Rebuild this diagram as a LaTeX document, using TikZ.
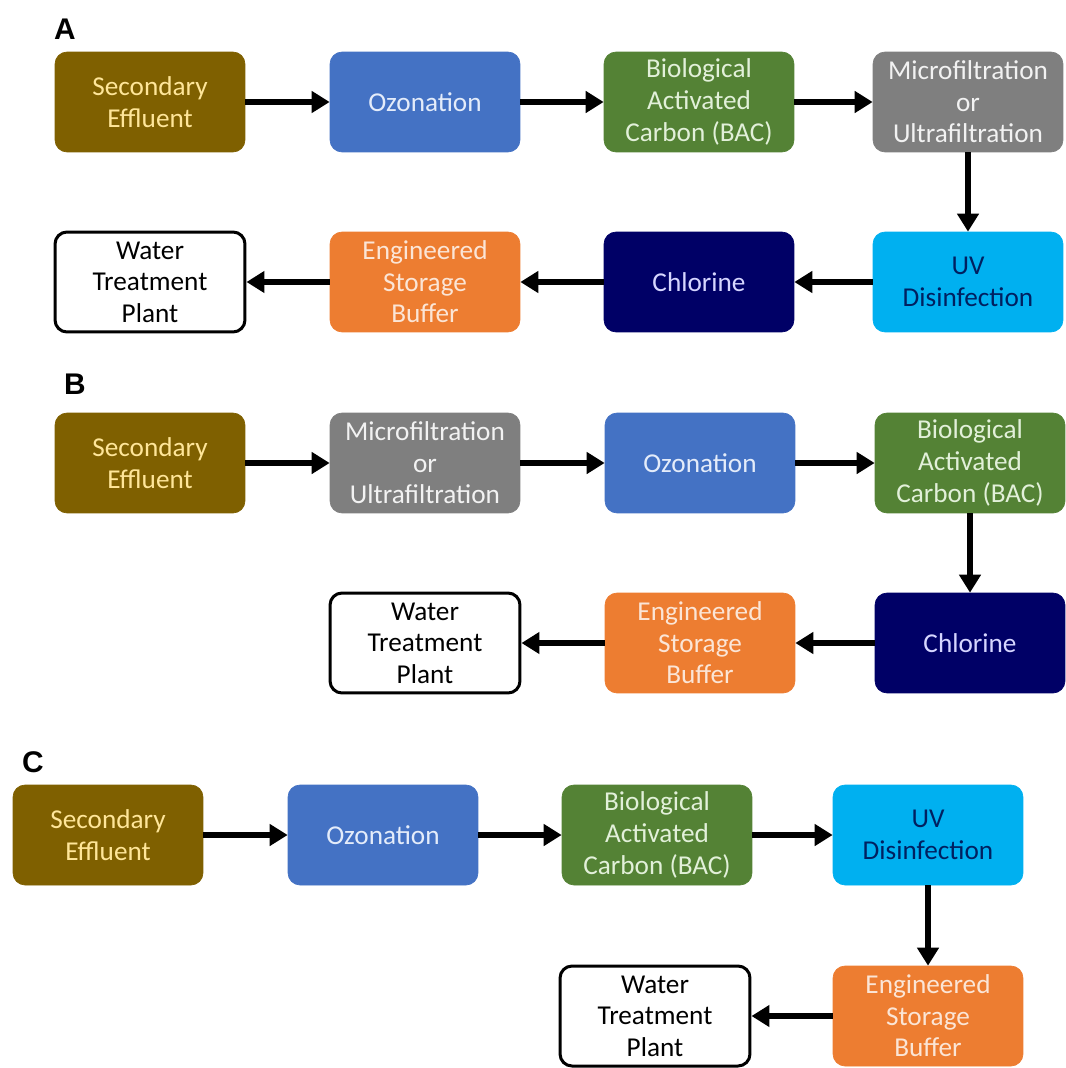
\documentclass[tikz,border=0pt]{standalone}
\usepackage{fontspec}
\setmainfont{Carlito}
\newfontfamily\panelfont{Liberation Sans}
\usetikzlibrary{arrows.meta}
\definecolor{effluent}{HTML}{7F6000}
\definecolor{effluenttext}{HTML}{FFE699}
\definecolor{ozone}{HTML}{4472C4}
\definecolor{ozonetext}{HTML}{E4ECFA}
\definecolor{bac}{HTML}{548235}
\definecolor{bactext}{HTML}{E2F0D9}
\definecolor{filtration}{HTML}{7F7F7F}
\definecolor{filtrationtext}{HTML}{F2F2F2}
\definecolor{uv}{HTML}{00B0F0}
\definecolor{uvtext}{HTML}{002060}
\definecolor{chlorine}{HTML}{000066}
\definecolor{chlorinetext}{HTML}{D6D6FF}
\definecolor{storage}{HTML}{ED7D31}
\definecolor{storagetext}{HTML}{FBE5D6}
\tikzset{
  stage/.style={rounded corners=0.24cm, minimum width=3.8cm, minimum height=2cm,
    align=center, inner sep=0pt, font=\fontsize{15.5}{18}\selectfont},
  sec/.style={stage, fill=effluent, draw=effluent, text=effluenttext},
  ozo/.style={stage, fill=ozone, draw=ozone, text=ozonetext},
  bio/.style={stage, fill=bac, draw=bac, text=bactext},
  mfuf/.style={stage, fill=filtration, draw=filtration, text=filtrationtext},
  uvbox/.style={stage, fill=uv, draw=uv, text=uvtext},
  clbox/.style={stage, fill=chlorine, draw=chlorine, text=chlorinetext},
  esb/.style={stage, fill=storage, draw=storage, text=storagetext},
  plant/.style={stage, fill=white, draw=black, line width=0.06cm, text=black},
  flow/.style={line width=0.12cm, -{Triangle[length=0.36cm,width=0.42cm]}},
  panel/.style={font=\panelfont\bfseries\fontsize{17}{20}\selectfont}
}
\begin{document}
\begin{tikzpicture}[x=0.02cm,y=-0.02cm]
  \useasboundingbox (0,0) rectangle (1065,1068);
  % panel A
  \node[panel] (labA) at (65,29) {A};
  \node[sec] (aSec) at (150,102) {Secondary\\Effluent};
  \node[ozo] (aOzo) at (425,102) {Ozonation};
  \node[bio] (aBac) at (699,102) {Biological\\Activated\\Carbon (BAC)};
  \node[mfuf] (aMf) at (968,102) {Microfiltration\\or\\Ultrafiltration};
  \node[uvbox] (aUv) at (968,282) {UV\\Disinfection};
  \node[clbox] (aCl) at (699,282) {Chlorine};
  \node[esb] (aEsb) at (425,282) {Engineered\\Storage\\Buffer};
  \node[plant] (aWtp) at (150,282) {Water\\Treatment\\Plant};
  \draw[flow] (aSec) -- (aOzo);
  \draw[flow] (aOzo) -- (aBac);
  \draw[flow] (aBac) -- (aMf);
  \draw[flow] (aMf) -- (aUv); %down
  \draw[flow] (aUv) -- (aCl);
  \draw[flow] (aCl) -- (aEsb);
  \draw[flow] (aEsb) -- (aWtp);
  % panel B
  \node[panel] (labB) at (75,384) {B};
  \node[sec] (bSec) at (150,463) {Secondary\\Effluent};
  \node[mfuf] (bMf) at (425,463) {Microfiltration\\or\\Ultrafiltration};
  \node[ozo] (bOzo) at (700,463) {Ozonation};
  \node[bio] (bBac) at (970,463) {Biological\\Activated\\Carbon (BAC)};
  \node[clbox] (bCl) at (970,643) {Chlorine};
  \node[esb] (bEsb) at (700,643) {Engineered\\Storage\\Buffer};
  \node[plant] (bWtp) at (425,643) {Water\\Treatment\\Plant};
  \draw[flow] (bSec) -- (bMf);
  \draw[flow] (bMf) -- (bOzo);
  \draw[flow] (bOzo) -- (bBac);
  \draw[flow] (bBac) -- (bCl); %down
  \draw[flow] (bCl) -- (bEsb);
  \draw[flow] (bEsb) -- (bWtp);
  % panel C
  \node[panel] (labC) at (33,762) {C};
  \node[sec] (cSec) at (108,835) {Secondary\\Effluent};
  \node[ozo] (cOzo) at (383,835) {Ozonation};
  \node[bio] (cBac) at (657,835) {Biological\\Activated\\Carbon (BAC)};
  \node[uvbox] (cUv) at (928,835) {UV\\Disinfection};
  \node[esb] (cEsb) at (928,1016) {Engineered\\Storage\\Buffer};
  \node[plant] (cWtp) at (655,1016) {Water\\Treatment\\Plant};
  \draw[flow] (cSec) -- (cOzo);
  \draw[flow] (cOzo) -- (cBac);
  \draw[flow] (cBac) -- (cUv);
  \draw[flow] (cUv) -- (cEsb); %down
  \draw[flow] (cEsb) -- (cWtp);
\end{tikzpicture}
\end{document}
